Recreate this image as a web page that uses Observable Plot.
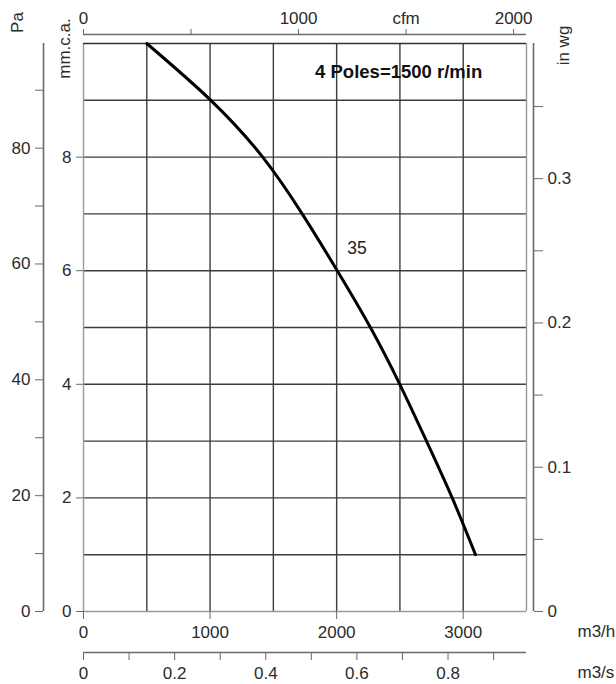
<!DOCTYPE html>
<html>
<head>
<meta charset="utf-8">
<script src="https://cdn.jsdelivr.net/npm/d3@7"></script>
<script src="https://cdn.jsdelivr.net/npm/@observablehq/plot@0.6"></script>
<style>
  html, body { margin: 0; padding: 0; background: #fff; }
  #chart svg { display: block; }
</style>
</head>
<body>
<div id="chart"></div>
<script>
// ---- data ----
const flowM3h = [500, 1006, 1416, 1728, 2005, 2267, 2499, 2710, 2913, 3097];   // m3/h
const pressureMm = [10, 9, 8, 7, 6, 5, 4, 3, 2, 1];                            // mm.c.a.
const curveName = "35";
const speedTitle = "4 Poles=1500 r/min";

const gridFlow = [500, 1000, 1500, 2000, 2500, 3000];
const gridPressure = [1, 2, 3, 4, 5, 6, 7, 8, 9];
const m3hTicks = [0, 1000, 2000, 3000];
const mmTicks = [0, 2, 4, 6, 8];
const paTicks = [0, 10, 20, 30, 40, 50, 60, 70, 80, 90];
const paLabels = [0, 20, 40, 60, 80];
const inwgTicks = [0, 0.05, 0.1, 0.15, 0.2, 0.25, 0.3, 0.35];
const inwgLabels = ["0", "0.1", "0.2", "0.3"];
const m3sTicks = [0, 0.1, 0.2, 0.3, 0.4, 0.5, 0.6, 0.7, 0.8, 0.9];
const m3sLabels = ["0", "0.2", "0.4", "0.6", "0.8"];
const cfmTicks = [0, 500, 1000, 1500, 2000];
const cfmLabels = ["0", "", "1000", "cfm", "2000"];

// unit conversions
const PA_PER_MM = 9.80665;
const MM_PER_INWG = 25.4;
const M3H_PER_M3S = 3600;
const M3H_PER_CFM = 1.699;

const curve = flowM3h.map((f, i) => ({flow: f, mm: pressureMm[i]}));

const gridDark = "#3c3c3c";
const frameGray = "#9a9a9a";
const axisGray = "#6a6a6a";
const mid = {textAnchor: "middle", lineAnchor: "middle"};

const chart = Plot.plot({
  width: 616,
  height: 684,
  marginLeft: 83,
  marginRight: 90,
  marginTop: 43,
  marginBottom: 73,
  style: {fontFamily: "'Liberation Sans', Arial, Helvetica, sans-serif", fontSize: "17px", color: "#2b2b2b", background: "#fff"},
  x: {domain: [0, 3500], label: null},
  y: {domain: [0, 10], label: null},
  marks: [
    // grid
    Plot.ruleX(gridFlow, {stroke: gridDark, strokeWidth: 1.4}),
    Plot.ruleY(gridPressure, {stroke: gridDark, strokeWidth: 1.4}),
    Plot.ruleX([0, 3500], {stroke: frameGray, strokeWidth: 1.4}),
    Plot.ruleY([0], {stroke: frameGray, strokeWidth: 1.4}),
    Plot.ruleY([10], {stroke: "#333", strokeWidth: 1.7}),

    // mm.c.a. axis (left, at frame)
    Plot.axisY(mmTicks, {anchor: "left", tickSize: 7, tickPadding: 5, stroke: axisGray, label: null, tickFormat: d => String(d)}),
    // Pa axis (further left)
    Plot.ruleX([0], {dx: -40, stroke: axisGray, strokeWidth: 1.6}),
    Plot.axisY(paTicks.map(p => p / PA_PER_MM), {
      anchor: "left", dx: -40, tickSize: 8, tickPadding: 5, stroke: axisGray, label: null,
      tickFormat: d => { const p = Math.round(d * PA_PER_MM); return paLabels.includes(p) ? String(p) : ""; }
    }),
    // in wg axis (right)
    Plot.ruleX([3500], {dx: 7, stroke: axisGray, strokeWidth: 1.6}),
    Plot.axisY(inwgTicks.map(v => v * MM_PER_INWG), {
      anchor: "right", dx: 7, tickSize: 9, tickPadding: 5, stroke: axisGray, label: null,
      tickFormat: d => { const s = String(Math.round(d / MM_PER_INWG * 100) / 100); return inwgLabels.includes(s) ? s : ""; }
    }),

    // m3/h axis (bottom)
    Plot.axisX(m3hTicks, {anchor: "bottom", tickSize: 8, tickPadding: 6, stroke: axisGray, label: null, tickFormat: d => String(d)}),
    // m3/s axis (below)
    Plot.ruleY([0], {dy: 41, stroke: axisGray, strokeWidth: 1.6}),
    Plot.axisX(m3sTicks.map(v => v * M3H_PER_M3S), {
      anchor: "bottom", dy: 41, tickSize: 8, tickPadding: 6, stroke: axisGray, label: null,
      tickFormat: d => { const s = String(Math.round(d / M3H_PER_M3S * 10) / 10); return m3sLabels.includes(s) ? s : ""; }
    }),
    // cfm axis (top)
    Plot.ruleY([10], {dy: -9, stroke: axisGray, strokeWidth: 1.6}),
    Plot.axisX(cfmTicks.map(v => v * M3H_PER_CFM), {
      anchor: "top", dy: -9, tickSize: 6, tickPadding: 5, stroke: axisGray, label: null,
      tickFormat: (d) => cfmLabels[cfmTicks.indexOf(Math.round(d / M3H_PER_CFM))]
    }),

    // unit labels
    Plot.text(["Pa"], {frameAnchor: "top-left", dx: -65.5, dy: -21, rotate: -90, text: d => d, ...mid}),
    Plot.text(["mm.c.a."], {frameAnchor: "top-left", dx: -18.5, dy: 5, rotate: -90, text: d => d, ...mid}),
    Plot.text(["in wg"], {frameAnchor: "top-right", dx: 37.5, dy: 2, rotate: -90, text: d => d, ...mid}),
    Plot.text(["m3/h"], {frameAnchor: "bottom-right", dx: 51, dy: 20, text: d => d, textAnchor: "start", lineAnchor: "middle"}),
    Plot.text(["m3/s"], {frameAnchor: "bottom-right", dx: 51, dy: 61, text: d => d, textAnchor: "start", lineAnchor: "middle"}),

    // curve
    Plot.line(curve, {x: "flow", y: "mm", curve: "natural", stroke: "#000", strokeWidth: 3}),
    Plot.text([curveName], {x: 2160, y: 6.4, text: d => d, fontSize: 17.5, fill: "#222", ...mid}),
    Plot.text([speedTitle], {x: 2490, y: 9.5, text: d => d, fontSize: 18.5, fontWeight: "bold", fill: "#111", ...mid})
  ]
});
document.getElementById("chart").appendChild(chart);
</script>
</body>
</html>
